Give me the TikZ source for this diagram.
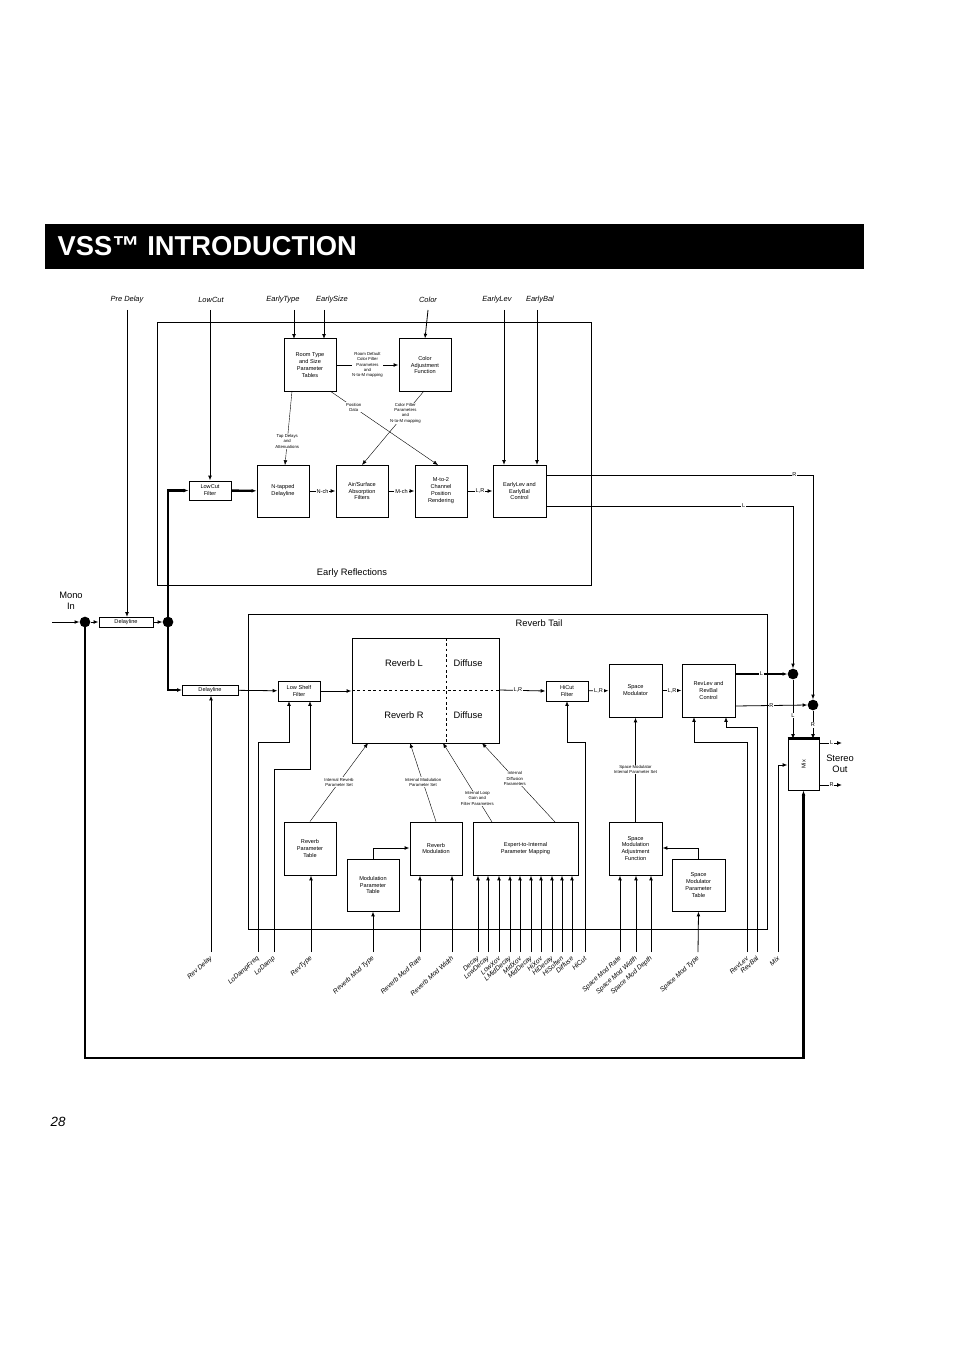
\documentclass[tikz,border=0pt]{standalone}
\usepackage{fontspec}
\setmainfont{Liberation Sans}
\usetikzlibrary{arrows.meta}
\newcommand\bx[6]{\node[box,minimum width={(#4-#2)*0.75pt},minimum height={(#5-#3)*0.75pt}] (#1) at ({(#2+#4)/2},{(#3+#5)/2}) {#6};}
\newcommand\bparam[3]{\coordinate (#1) at (#2,952); \node[blab,anchor=east] at (#2+1,957) {#3};}
\begin{document}
\begin{tikzpicture}[x=0.75pt,y=-0.75pt,
  >={Latex[length=3.6pt,width=2.8pt]},
  box/.style={draw,line width=0.75pt,inner sep=0pt,align=center,font=\fontsize{4.2}{5.2}\selectfont},
  tiny/.style={font=\fontsize{3.2}{4}\selectfont,align=center,inner sep=0.5pt},
  elab/.style={font=\fontsize{4.2}{5}\selectfont,fill=white,inner sep=0.6pt},
  toplab/.style={font=\itshape\fontsize{5.6}{6}\selectfont},
  blab/.style={font=\itshape\fontsize{5}{6}\selectfont,rotate=42,inner sep=0.5pt},
  mid/.style={font=\fontsize{7}{8.5}\selectfont,align=center},
  thk/.style={line width=1.8pt},
  ln/.style={line width=0.6pt},
  thin/.style={line width=0.3pt},
  dot/.style={circle,fill=black,minimum size=8pt,inner sep=0pt}]
\useasboundingbox (0,0) rectangle (954,1351);
% header
\fill (45,224) rectangle (864,269);
\node[white,anchor=west,font=\bfseries\fontsize{20.5}{21}\selectfont] (title) at (53,246) {VSS™ INTRODUCTION};
\node[anchor=west,font=\itshape\fontsize{10}{11}\selectfont] (page) at (46,1122) {28};
% frames
\draw[ln] (157,322) rectangle (591,585);
\node[mid] (erl) at (352,573) {Early Reflections};
\draw[ln] (248,614) rectangle (767,929);
\node[mid] (rtl) at (539,623) {Reverb Tail};
% top labels
\node[toplab] (tPre) at (127,300) {Pre Delay};
\node[toplab] (tLow) at (211,300) {LowCut};
\node[toplab] (tET) at (283,300) {EarlyType};
\node[toplab] (tES) at (332,300) {EarlySize};
\node[toplab] (tCol) at (428,300) {Color};
\node[toplab] (tEL) at (497,300) {EarlyLev};
\node[toplab] (tEB) at (540,300) {EarlyBal};
% early boxes
\bx{room}{284}{339}{336}{391}{Room Type\\and Size\\Parameter\\Tables}
\bx{cadj}{399}{339}{451}{391}{Color\\Adjustment\\Function}
\bx{lcf}{189}{481}{231}{500}{LowCut\\Filter}
\bx{ntap}{257}{465}{309}{517}{N-tapped\\Delayline}
\bx{air}{336}{465}{388}{517}{Air/Surface\\Absorption\\Filters}
\bx{m2c}{415}{465}{467}{517}{M-to-2\\Channel\\Position\\Rendering}
\bx{erc}{493}{465}{546}{517}{EarlyLev and\\EarlyBal\\Control}
\draw[ln,->] (294,310) -- (294,339);
\draw[ln,->] (324,310) -- (324,339);
\draw[ln,->] (tCol.south |- 0,310) -- (cadj.north);
\draw[ln,->] (504,310) -- (504,465);
\draw[ln,->] (537,310) -- (537,465);
\draw[ln,->] (210,310) -- (lcf.north);
\draw[ln,->] (127,310) -- (127,617);
\draw[ln,->] (room.east) -- node[tiny,fill=white]{Room Default\\Color Filter\\Parameters\\and\\N-to-M mapping} (cadj.west);
\draw[thin,->] (292,391) -- node[tiny,fill=white,pos=0.68]{Tap Delays\\and\\Attenuations} (285,465);
\draw[thin,->] (330,391) -- node[tiny,fill=white,pos=0.22]{Position\\Data} (438,465);
\draw[thin,->] (424,391) -- node[tiny,fill=white,pos=0.3]{Color Filter\\Parameters\\and\\N-to-M mapping} (362,465);
\draw[thk,->] (lcf) -- (ntap);
\draw[ln,->] (ntap) -- node[elab]{N-ch} (air);
\draw[ln,->] (air) -- node[elab]{M-ch} (m2c);
\draw[ln,->] (m2c) -- node[elab]{L,R} (erc);
% input path
\node[mid] (mono) at (71,601) {Mono\\In};
\coordinate (in) at (52,622);
\node[dot] (d1) at (85,622) {};
\bx{dl1}{99}{617}{153}{627}{Delayline}
\node[dot] (d2) at (168,622) {};
\draw[ln,->] (in) -- (d1.west);
\draw[ln,->] (d1) -- (dl1.west);
\draw[ln,->] (dl1) -- (d2.west);
\draw[thk,->] (d2.center) |- (lcf.west);
\draw[thk,->] (d2.center) |- (182,690);
\bx{dl2}{182}{685}{238}{695}{Delayline}
% reverb tail boxes
\bx{lsf}{278}{681}{320}{701}{Low Shelf\\Filter}
\node[draw,line width=0.75pt,minimum width={147*0.75pt},minimum height={105*0.75pt},inner sep=0] (rev) at (425.5,690.5) {};
\draw[thin,dash pattern=on 2pt off 2pt] (446,638) -- (446,743) (352,690) -- (499,690);
\node[mid] (rl) at (404,663) {Reverb L};
\node[mid] (dfa) at (468,663) {Diffuse};
\node[mid] (rr) at (404,715) {Reverb R};
\node[mid] (dfb) at (468,715) {Diffuse};
\bx{hcf}{546}{681}{588}{701}{HiCut\\Filter}
\bx{smod}{609}{664}{662}{717}{Space\\Modulator}
\bx{rlc}{682}{664}{735}{717}{RevLev and\\RevBal\\Control}
\draw[ln,->] (dl2) -- (lsf);
\draw[ln,->] (lsf) -- (rev.west |- lsf);
\draw[ln,->] (rev.east |- 0,690) -- node[elab,pos=0.4]{L,R} (hcf.west);
\draw[ln,->] (hcf) -- node[elab]{L,R} (smod);
\draw[ln,->] (smod) -- node[elab]{L,R} (rlc);
\bx{rpt}{284}{822}{336}{875}{Reverb\\Parameter\\Table}
\bx{mpt}{347}{859}{399}{911}{Modulation\\Parameter\\Table}
\bx{rmod}{410}{822}{462}{875}{Reverb\\Modulation}
\bx{e2i}{473}{822}{578}{875}{Expert-to-Internal\\Parameter Mapping}
\bx{sadj}{609}{822}{662}{875}{Space\\Modulation\\Adjustment\\Function}
\bx{smpt}{672}{859}{725}{911}{Space\\Modulator\\Parameter\\Table}
\draw[ln,->] (mpt.north) |- (rmod.west |- 0,848);
\draw[ln,->] (smpt.north) |- (sadj.east |- 0,848);
\draw[thin,->] (rpt.north) -- node[tiny,fill=white]{Internal Reverb\\Parameter Set} (368,743);
\draw[thin,->] (rmod.north) -- node[tiny,fill=white]{Internal Modulation\\Parameter Set} (410,743);
\draw[thin,->] (492,822) -- node[tiny,fill=white,pos=0.3]{Internal Loop\\Gain and\\Filter Parameters} (443,743);
\draw[thin,->] (555,822) -- node[tiny,fill=white,pos=0.55]{Internal\\Diffusion\\Parameters} (482,743);
\draw[ln,->] (sadj.north) -- node[tiny,fill=white]{Space Modulator\\Internal Parameter Set} (smod.south);
% mix
\bx{mix}{788}{739}{819}{790}{}
\node[rotate=90,font=\fontsize{4.2}{5}\selectfont] (mixt) at (mix) {Mix};
\draw[thk] (mix.north west) -- (mix.north east);
\node[dot] (dL) at (793,674) {};
\node[dot] (dR) at (813,705) {};
\draw[ln,->] (erc.east |- 0,475) -- node[elab,pos=0.93]{R} (813,475) -- (dR.north);
\draw[ln,->] (erc.east |- 0,506) -- node[elab,pos=0.8]{L} (793,506) -- (dL.north);
\draw[thk,->] (rlc.east |- 0,674) -- node[elab,font=\fontsize{4.2}{5}\selectfont]{L} (dL.west);
\draw[ln,->] (rlc.east |- 0,706) -- node[elab]{R} (dR.west);
\draw[ln,->] (dL) -- node[elab,pos=0.6]{L} (793,739);
\draw[ln,->] (dR) -- node[elab,pos=0.5]{R} (813,739);
\draw[ln,->] (819,743) -- node[elab,pos=0.55]{L} (842,743);
\draw[ln,->] (819,785) -- node[elab,pos=0.55]{R} (842,785);
\node[mid] (so) at (840,764) {Stereo\\Out};
\draw[thk,->] (d1.center) -- (85,1058) -| (mix.south);
% bottom params
\bparam{pRD}{211}{Rev Delay}
\bparam{pLDF}{258}{LoDampFreq}
\bparam{pLD}{274}{LoDamp}
\bparam{pRT}{311}{RevType}
\bparam{pRMT}{373}{Reverb Mod Type}
\bparam{pRMR}{420}{Reverb Mod Rate}
\bparam{pRMW}{452}{Reverb Mod Width}
\bparam{e1}{478}{Decay}
\bparam{e2}{488}{LowDecay}
\bparam{e3}{499}{LowXov}
\bparam{e4}{510}{LMidDecay}
\bparam{e5}{520}{MidXov}
\bparam{e6}{531}{MidDecay}
\bparam{e7}{541}{HiXov}
\bparam{e8}{552}{HiDecay}
\bparam{e9}{562}{HiSoften}
\bparam{e10}{572}{Diffuse}
\bparam{pHC}{585}{HiCut}
\bparam{pSR}{620}{Space Mod Rate}
\bparam{pSW}{636}{Space Mod Width}
\bparam{pSD}{651}{Space Mod Depth}
\bparam{pST}{698}{Space Mod Type}
\bparam{pRL}{747}{RevLev}
\bparam{pRB}{757}{RevBal}
\bparam{pMX}{778}{Mix}
\draw[ln,->] (pRD) -- (dl2.south -| pRD);
\draw[ln,->] (pLDF) |- (289,742) -- (289,701);
\draw[ln,->] (pLD) |- (310,769) -- (310,701);
\draw[ln,->] (pRT) -- (rpt.south -| pRT);
\draw[ln,->] (pRMT) -- (mpt.south);
\draw[ln,->] (pRMR) -- (rmod.south -| pRMR);
\draw[ln,->] (pRMW) -- (rmod.south -| pRMW);
\foreach \e in {e1,e2,e3,e4,e5,e6,e7,e8,e9,e10} {\draw[ln,->] (\e) -- (e2i.south -| \e);}
\draw[ln,->] (pHC) |- (567,742) -- (567,701);
\draw[ln,->] (pSR) -- (sadj.south -| pSR);
\draw[ln,->] (pSW) -- (sadj.south -| pSW);
\draw[ln,->] (pSD) -- (sadj.south -| pSD);
\draw[ln,->] (pST) -- (smpt.south);
\draw[ln,->] (pRL) |- (694,742) -- (694,717);
\draw[ln,->] (pRB) |- (726,727) -- (726,717);
\draw[ln,->] (pMX) |- (mix.west |- 0,765);
\end{tikzpicture}
\end{document}
